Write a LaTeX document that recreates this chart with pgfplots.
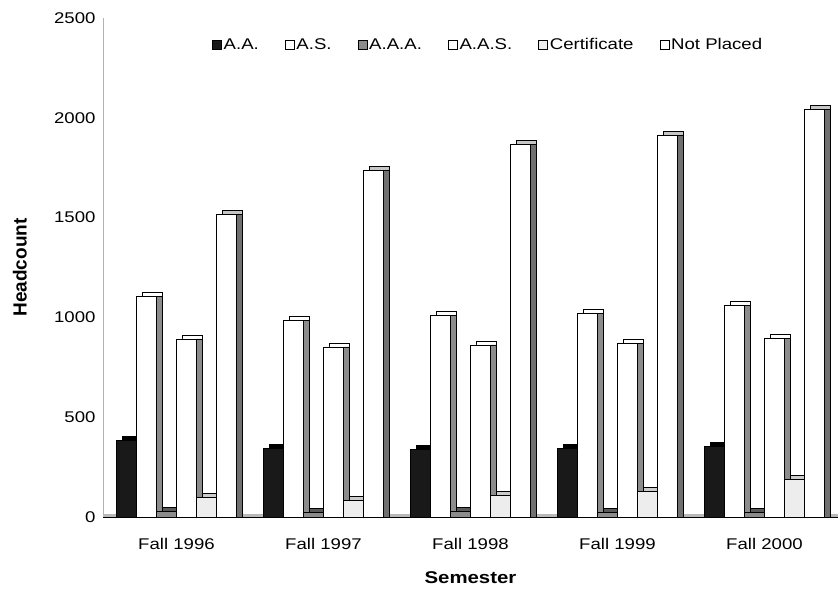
\documentclass[border=0pt]{standalone}
\usepackage{pgfplots}
\pgfplotsset{compat=1.18}
\usepackage{pgfplotstable}
\usepackage{fontspec}
\setmainfont{Liberation Sans}[FakeStretch=1.2]
\newfontfamily\plainfont{Liberation Sans}

\definecolor{sidegray}{gray}{0.55}
\definecolor{aaagray}{gray}{0.55}
\definecolor{aaaside}{gray}{0.35}
\definecolor{certfill}{gray}{0.93}

\pgfplotstableread{
x AA AS AAA AAS Cert NP
0 385 1105 30 892 98 1518
1 345 985 25 852 85 1735
2 340 1010 30 862 110 1868
3 342 1020 25 870 128 1912
4 352 1062 25 895 188 2040
}\data

\pgfplotsset{
  sqleg/.style={legend image code/.code={\draw[##1,line width=0.6pt] (0pt,-4.5pt) rectangle (9pt,4.5pt);}},
  topface/.style={ybar, bar width=20pt, yshift=4pt, fill=white, draw=black, line width=0.8pt, forget plot},
  sideface/.style={ybar, bar width=6pt, draw=black, line width=0.8pt, forget plot},
  front/.style={ybar, bar width=20pt, draw=black, line width=0.8pt, sqleg},
}

\begin{document}
\begin{tikzpicture}
\path[use as bounding box] (0,0) rectangle (840pt,593pt);
\begin{axis}[
  at={(103pt,76pt)}, anchor=south west,
  scale only axis, width=735pt, height=499pt,
  xmin=-0.5, xmax=4.5, ymin=0, ymax=2500,
  ytick={0,500,1000,1500,2000,2500},
  xtick={0,1,2,3,4},
  xticklabels={Fall 1996,Fall 1997,Fall 1998,Fall 1999,Fall 2000},
  axis lines*=left,
  axis line style={-},
  y axis line style={draw=gray!60, line width=0.6pt},
  x axis line style={draw=black, line width=0.8pt},
  major tick length=0pt,
  /pgf/number format/assume math mode=true,
  /pgf/number format/1000 sep={},
  tick label style={font=\fontsize{15.5}{18}\selectfont},
  yticklabel style={xshift=-4pt},
  xticklabel style={yshift=-18pt},
  xlabel={Semester},
  ylabel={\plainfont\bfseries Headcount},
  xlabel style={font=\fontsize{17}{20}\selectfont\bfseries, at={(axis description cs:0.5,-0.122)}, anchor=center},
  ylabel style={font=\fontsize{19}{22}\selectfont, at={(axis description cs:-0.113,0.5)}, anchor=center, rotate=0},
  legend columns=6,
  legend style={at={(axis description cs:0.524,0.946)}, anchor=center, draw=none, fill=none,
    font=\fontsize{15.5}{18}\selectfont, nodes={inner xsep=2pt, inner ysep=1pt},
    /tikz/every even column/.append style={column sep=24pt}},
  clip=false,
]
% floor
\fill[gray!55] (axis cs:-0.5,0) rectangle (axis cs:4.5,15);

% top faces
\addplot[topface, fill=black, bar shift=-44pt] table[x=x,y=AA]{\data};
\addplot[topface, bar shift=-24pt] table[x=x,y=AS]{\data};
\addplot[topface, fill=aaaside, bar shift=-4pt] table[x=x,y=AAA]{\data};
\addplot[topface, bar shift=16pt] table[x=x,y=AAS]{\data};
\addplot[topface, fill=gray!40, bar shift=36pt] table[x=x,y=Cert]{\data};
\addplot[topface, fill=gray!45, bar shift=56pt] table[x=x,y=NP]{\data};
% side faces
\addplot[sideface, fill=black, bar shift=-37pt] table[x=x,y=AA]{\data};
\addplot[sideface, fill=sidegray, bar shift=-17pt] table[x=x,y=AS]{\data};
\addplot[sideface, fill=aaaside, bar shift=3pt] table[x=x,y=AAA]{\data};
\addplot[sideface, fill=sidegray, bar shift=23pt] table[x=x,y=AAS]{\data};
\addplot[sideface, fill=sidegray, bar shift=43pt] table[x=x,y=Cert]{\data};
\addplot[sideface, fill=sidegray!80!black, bar shift=63pt] table[x=x,y=NP]{\data};
% fronts
\addplot[front, fill=black!90, bar shift=-50pt] table[x=x,y=AA]{\data};
\addlegendentry{A.A.}
\addplot[front, fill=white, bar shift=-30pt] table[x=x,y=AS]{\data};
\addlegendentry{A.S.}
\addplot[front, fill=aaagray, bar shift=-10pt] table[x=x,y=AAA]{\data};
\addlegendentry{A.A.A.}
\addplot[front, fill=white, bar shift=10pt] table[x=x,y=AAS]{\data};
\addlegendentry{A.A.S.}
\addplot[front, fill=certfill, bar shift=30pt] table[x=x,y=Cert]{\data};
\addlegendentry{Certificate}
\addplot[front, fill=white, bar shift=50pt] table[x=x,y=NP]{\data};
\addlegendentry{Not Placed}
\end{axis}
\end{tikzpicture}
\end{document}
